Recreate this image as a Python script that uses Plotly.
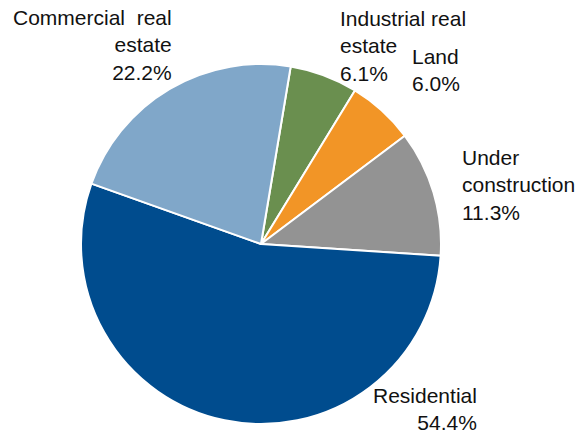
import plotly.graph_objects as go

# Loan portfolio composition by collateral type (%)
categories = ["Industrial real estate", "Land", "Under construction", "Residential", "Commercial real estate"]
label_lines = [["Industrial real", "estate"], ["Land"], ["Under", "construction"], ["Residential"], ["Commercial&nbsp; real", "estate"]]
shares = [6.1, 6.0, 11.3, 54.4, 22.2]
colors = ["#6A8F4F", "#F29526", "#939393", "#004C8E", "#80A7C9"]

W, H = 582, 434
cx, cy, r = 261, 244, 180

fig = go.Figure(go.Pie(
    labels=categories,
    values=shares,
    sort=False,
    direction="clockwise",
    rotation=9.5,
    marker=dict(colors=colors, line=dict(color="white", width=2)),
    textinfo="none",
    hoverinfo="label+percent",
    showlegend=False,
    domain=dict(x=[(cx - r) / W, (cx + r) / W], y=[1 - (cy + r) / H, 1 - (cy - r) / H]),
))

# label placement: (x px, y px of block centre, anchor/alignment)
label_pos = [
    (339, 46, "left"),
    (411, 70, "left"),
    (461, 185, "left"),
    (478, 409, "right"),
    (173, 45, "right"),
]

font = dict(family="Liberation Sans, Arial, sans-serif", size=21, color="#111111")
for lines, val, (px, py, al) in zip(label_lines, shares, label_pos):
    text = "<br>".join(lines + [f"{val:.1f}%"])
    fig.add_annotation(
        x=px / W, y=1 - py / H, xref="paper", yref="paper",
        text=text, showarrow=False, xanchor=al, yanchor="middle", align=al,
        borderpad=0, font=font,
    )

fig.update_layout(
    width=W, height=H,
    margin=dict(l=0, r=0, t=0, b=0),
    paper_bgcolor="white", plot_bgcolor="white",
)

fig.write_html("out.html")
